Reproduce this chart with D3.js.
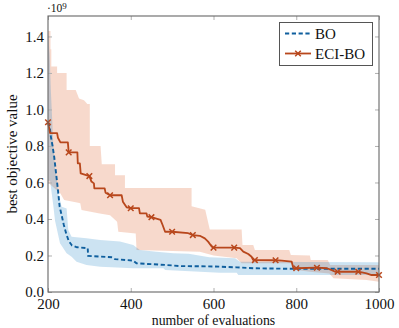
<!DOCTYPE html>
<html>
<head>
<meta charset="utf-8">
<script src="https://cdn.jsdelivr.net/npm/d3@7"></script>
<style>
  body { margin: 0; background: #fff; }
  text { font-family: "Liberation Serif", "Times New Roman", serif; }
</style>
</head>
<body>
<script>
"use strict";

const xTicks = [200, 400, 600, 800, 1000];
const yTicks = [0, 0.2, 0.4, 0.6, 0.8, 1.0, 1.2, 1.4];
const seriesNames = ["BO", "ECI-BO"];

// values in units of 1e9
const boLine = [
  [200, 0.93], [204, 0.905], [207, 0.85], [211, 0.8], [215, 0.74], [218, 0.68],
  [221, 0.62], [224, 0.56], [228, 0.47], [233, 0.42], [238, 0.37], [244, 0.32],
  [250, 0.28], [258, 0.255], [270, 0.245], [296, 0.24], [297, 0.198], [355, 0.19],
  [362, 0.18], [406, 0.172], [414, 0.157], [485, 0.148], [520, 0.142], [600, 0.14],
  [656, 0.135], [700, 0.13], [790, 0.127], [1000, 0.127]
];
const boUpper = [
  [200, 1.42], [204, 1.3], [207, 1.1], [210, 0.95], [213, 0.8], [217, 0.68],
  [222, 0.6], [225, 0.54], [233, 0.467], [245, 0.458], [249, 0.34], [257, 0.303],
  [293, 0.295], [326, 0.285], [374, 0.276], [406, 0.258], [422, 0.23], [462, 0.22],
  [503, 0.212], [540, 0.21], [590, 0.19], [652, 0.185], [664, 0.166], [1000, 0.163]
];
const boLower = [
  [200, 0.61], [205, 0.61], [213, 0.47], [217, 0.39], [229, 0.267], [245, 0.212],
  [257, 0.193], [269, 0.166], [293, 0.148], [326, 0.139], [406, 0.13], [479, 0.13],
  [483, 0.12], [615, 0.106], [656, 0.106], [660, 0.093], [1000, 0.093]
];

const eciLine = [
  [200, 0.93], [205, 0.87], [222, 0.87], [224, 0.845], [230, 0.82], [248, 0.82],
  [250, 0.765], [271, 0.765], [272, 0.705], [277, 0.705], [279, 0.65], [300, 0.635],
  [305, 0.605], [311, 0.595], [312, 0.568], [337, 0.568], [339, 0.544], [350, 0.53],
  [378, 0.53], [381, 0.495], [390, 0.464], [400, 0.459], [420, 0.459], [422, 0.431],
  [438, 0.431], [440, 0.413], [450, 0.41], [472, 0.395], [477, 0.367], [483, 0.33],
  [500, 0.33], [539, 0.322], [550, 0.312], [567, 0.308], [579, 0.294], [587, 0.276],
  [596, 0.248], [600, 0.243], [650, 0.243], [664, 0.24], [672, 0.221], [684, 0.208],
  [692, 0.193], [696, 0.175], [700, 0.175], [750, 0.174], [765, 0.172], [789, 0.166],
  [793, 0.13], [800, 0.13], [850, 0.133], [874, 0.13], [886, 0.12], [894, 0.111],
  [900, 0.111], [950, 0.111], [970, 0.102], [982, 0.093], [1000, 0.093]
];
const eciUpper = [
  [200, 1.43], [206, 1.43], [206, 1.33], [208, 1.33], [208, 1.235], [222, 1.235],
  [222, 1.2], [245, 1.2], [245, 1.107], [267, 1.107], [275, 1.06], [287, 1.05],
  [295, 1.03], [301, 1.03], [301, 0.8], [327, 0.8], [330, 0.7], [362, 0.7],
  [362, 0.64], [386, 0.64], [386, 0.57], [547, 0.57], [547, 0.47], [580, 0.45],
  [591, 0.343], [668, 0.343], [670, 0.257], [696, 0.257], [700, 0.23], [783, 0.23],
  [787, 0.203], [833, 0.2], [835, 0.175], [876, 0.175], [882, 0.148], [1000, 0.148]
];
const eciLower = [
  [200, 0.6], [215, 0.57], [230, 0.54], [239, 0.504], [270, 0.49], [278, 0.486],
  [281, 0.449], [325, 0.43], [350, 0.42], [367, 0.385], [370, 0.33], [412, 0.32],
  [414, 0.23], [567, 0.22], [600, 0.2], [656, 0.185], [668, 0.157], [789, 0.157],
  [801, 0.12], [833, 0.111], [880, 0.102], [890, 0.075], [970, 0.066], [1000, 0.056]
];

const blue = "#0f5f9e";
const orange = "#b8471c";

let svg = d3
  .select("body")
  .append("svg")
  .attr("width", 399)
  .attr("height", 328);

const mLeft = 48, mRight = 379, mTop = 16, mBottom = 292;

let x = d3.scaleLinear().domain([200, 1000]).range([mLeft, mRight]);
let y = d3.scaleLinear().domain([0, 1.512]).range([mBottom, mTop]);

let line = d3.line().x(d => x(d[0])).y(d => y(d[1]));

function band(upper, lower) {
  return line(upper.concat(lower.slice().reverse())) + "Z";
}

let plot = svg.append("g");

plot.append("path")
  .attr("d", band(eciUpper, eciLower))
  .attr("fill", "#D95319")
  .attr("fill-opacity", 0.22);

plot.append("path")
  .attr("d", band(boUpper, boLower))
  .attr("fill", "#0072BD")
  .attr("fill-opacity", 0.2);

plot.append("path")
  .attr("d", line(boLine))
  .attr("fill", "none")
  .attr("stroke", blue)
  .attr("stroke-width", 1.9)
  .attr("stroke-dasharray", "4.2,2.6");

plot.append("path")
  .attr("d", line(eciLine))
  .attr("fill", "none")
  .attr("stroke", orange)
  .attr("stroke-width", 1.8)
  .attr("stroke-linejoin", "round");

function cross(g, cx, cy, s) {
  g.append("path")
    .attr("d", `M${cx - s},${cy - s}L${cx + s},${cy + s}M${cx - s},${cy + s}L${cx + s},${cy - s}`)
    .attr("stroke", orange)
    .attr("stroke-width", 1.5)
    .attr("fill", "none");
}

eciLine
  .filter(d => d[0] % 50 === 0)
  .forEach(d => cross(plot, x(d[0]), y(d[1]), 2.8));

// axes, ticks pointing inward on all four sides
let axes = svg.append("g");

axes.append("g")
  .attr("transform", `translate(0,${mBottom})`)
  .call(d3.axisBottom(x).tickValues(xTicks).tickSize(-4).tickPadding(6.5).tickFormat(d3.format("d")));
axes.append("g")
  .attr("transform", `translate(0,${mTop})`)
  .call(d3.axisTop(x).tickValues(xTicks).tickSize(-4).tickFormat(""));
axes.append("g")
  .attr("transform", `translate(${mLeft},0)`)
  .call(d3.axisLeft(y).tickValues(yTicks).tickSize(-4).tickPadding(4).tickFormat(d3.format(".1f")));
axes.append("g")
  .attr("transform", `translate(${mRight},0)`)
  .call(d3.axisRight(y).tickValues(yTicks).tickSize(-4).tickFormat(""));

axes.selectAll(".domain").remove();
axes.selectAll(".tick line").attr("stroke", "#b0b0b0").attr("stroke-width", 1);
axes.selectAll(".tick text")
  .attr("font-size", 15)
  .attr("fill", "#111");

svg.append("rect")
  .attr("x", mLeft)
  .attr("y", mTop)
  .attr("width", mRight - mLeft)
  .attr("height", mBottom - mTop)
  .attr("fill", "none")
  .attr("stroke", "#666")
  .attr("stroke-width", 1.1);

// exponent label
let expo = svg.append("text")
  .attr("x", mLeft - 1)
  .attr("y", 12)
  .attr("font-size", 11.5)
  .attr("fill", "#111");
expo.append("tspan").text("·10");
expo.append("tspan").attr("dy", -3.5).attr("font-size", 9).text("9");

svg.append("text")
  .attr("x", (mLeft + mRight) / 2)
  .attr("y", 325)
  .attr("text-anchor", "middle")
  .attr("font-size", 13.8)
  .attr("fill", "#111")
  .text("number of evaluations");

svg.append("text")
  .attr("transform", `translate(17,${(mTop + mBottom) / 2}) rotate(-90)`)
  .attr("text-anchor", "middle")
  .attr("font-size", 15)
  .attr("fill", "#111")
  .text("best objective value");

// legend
let legend = svg.append("g");
legend.append("rect")
  .attr("x", 279.5)
  .attr("y", 22.5)
  .attr("width", 93)
  .attr("height", 43)
  .attr("fill", "#fff")
  .attr("stroke", "#555")
  .attr("stroke-width", 1);

const legendY = [33.5, 53.5];
legend.append("line")
  .attr("x1", 285).attr("x2", 311)
  .attr("y1", legendY[0]).attr("y2", legendY[0])
  .attr("stroke", blue)
  .attr("stroke-width", 1.9)
  .attr("stroke-dasharray", "4.2,2.6");
legend.append("line")
  .attr("x1", 285).attr("x2", 311)
  .attr("y1", legendY[1]).attr("y2", legendY[1])
  .attr("stroke", orange)
  .attr("stroke-width", 1.8);
cross(legend, 298, legendY[1], 2.8);

seriesNames.forEach((name, i) => {
  legend.append("text")
    .attr("x", 315)
    .attr("y", legendY[i] + 5)
    .attr("font-size", 15)
    .attr("fill", "#111")
    .text(name);
});
</script>
</body>
</html>
